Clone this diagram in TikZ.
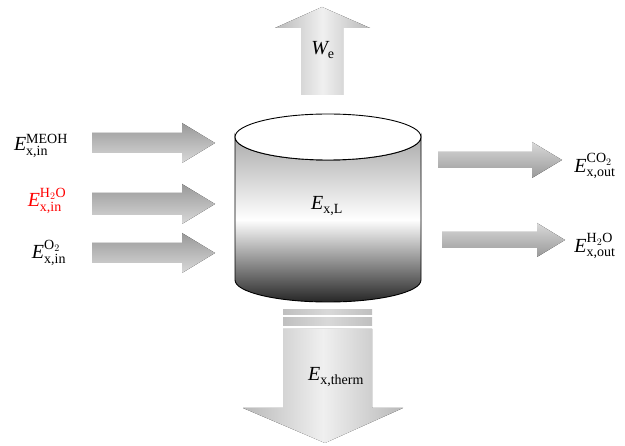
\documentclass[tikz,border=0pt]{standalone}
\usepackage{amsmath}
\usepackage{fontspec}
\setmainfont{Liberation Serif}
\usetikzlibrary{positioning}
\tikzset{
  inflow/.style   = {top color=gray!80, bottom color=gray!30},
  outflow/.style  = {top color=gray!30, bottom color=gray!80},
  vflow/.style    = {left color=gray!55, right color=gray!55, middle color=gray!12},
  stripe/.style   = {left color=gray!50, right color=gray!50, middle color=gray!30},
  tankbody/.style = {draw=black, line width=0.9pt, top color=gray!65, bottom color=black!85, middle color=white},
  labelstyle/.style = {font=\fontsize{20}{24}\selectfont, inner sep=0pt}
}

\begin{document}
\begin{tikzpicture}[x=1pt, y=-1pt]
    \useasboundingbox (0,0) rectangle (625,446);
    % Inflow arrows
    \foreach \c/\h in {143/10, 204/11, 253/10}
      \fill[inflow] (92,\c-\h) -- (182,\c-\h) -- (182,\c-20) -- (215,\c)
        -- (182,\c+20) -- (182,\c+\h) -- (92,\c+\h) -- cycle;
    % Outflow arrows
    \fill[outflow] (438,152) -- (532,152) -- (532,142) -- (562,160)
      -- (532,178) -- (532,168) -- (438,168) -- cycle;
    \fill[outflow] (442,232) -- (537,232) -- (537,223) -- (565,240)
      -- (537,257) -- (537,248) -- (442,248) -- cycle;
    % Work arrow
    \fill[vflow] (301,95) -- (301,28) -- (275,28) -- (322,7)
      -- (370,28) -- (343,28) -- (343,95) -- cycle;
    % Heat arrow
    \fill[stripe] (283,310) rectangle (372,315);
    \fill[stripe] (283,318) rectangle (372,326);
    \fill[vflow] (283,329) -- (372,329) -- (372,408) -- (403,408)
      -- (325,443) -- (243,408) -- (283,408) -- cycle;
    % Tank
    \draw[tankbody] (235,137) -- (235,280) arc[start angle=180, end angle=0, x radius=93, y radius=22]
      -- (421,137) arc[start angle=0, end angle=180, x radius=93, y radius=23] -- cycle;
    \draw[line width=0.9pt, fill=white] (328,137) ellipse[x radius=93, y radius=23];
    % Labels
    \node[labelstyle] (meoh) at (41,146) {$\mathit{E}^{\text{MEOH}}_{\text{x,in}}$};
    \node[labelstyle, red] (water) at (47,201) {$\mathit{E}^{\text{H$_2$O}}_{\text{x,in}}$};
    \node[labelstyle] (oxy) at (49,253) {$\mathit{E}^{\text{O$_2$}}_{\text{x,in}}$};
    \node[labelstyle] (co2out) at (595,166) {$\mathit{E}^{\text{CO$_2$}}_{\text{x,out}}$};
    \node[labelstyle] (h2oout) at (595,246) {$\mathit{E}^{\text{H$_2$O}}_{\text{x,out}}$};
    \node[labelstyle] (work) at (323,50) {$\mathit{W}_{\text{e}}$};
    \node[labelstyle] (tank) at (327,206) {$\mathit{E}_{\text{x,L}}$};
    \node[labelstyle] (therm) at (336,377) {$\mathit{E}_{\text{x,therm}}$};
  \end{tikzpicture}
\end{document}
